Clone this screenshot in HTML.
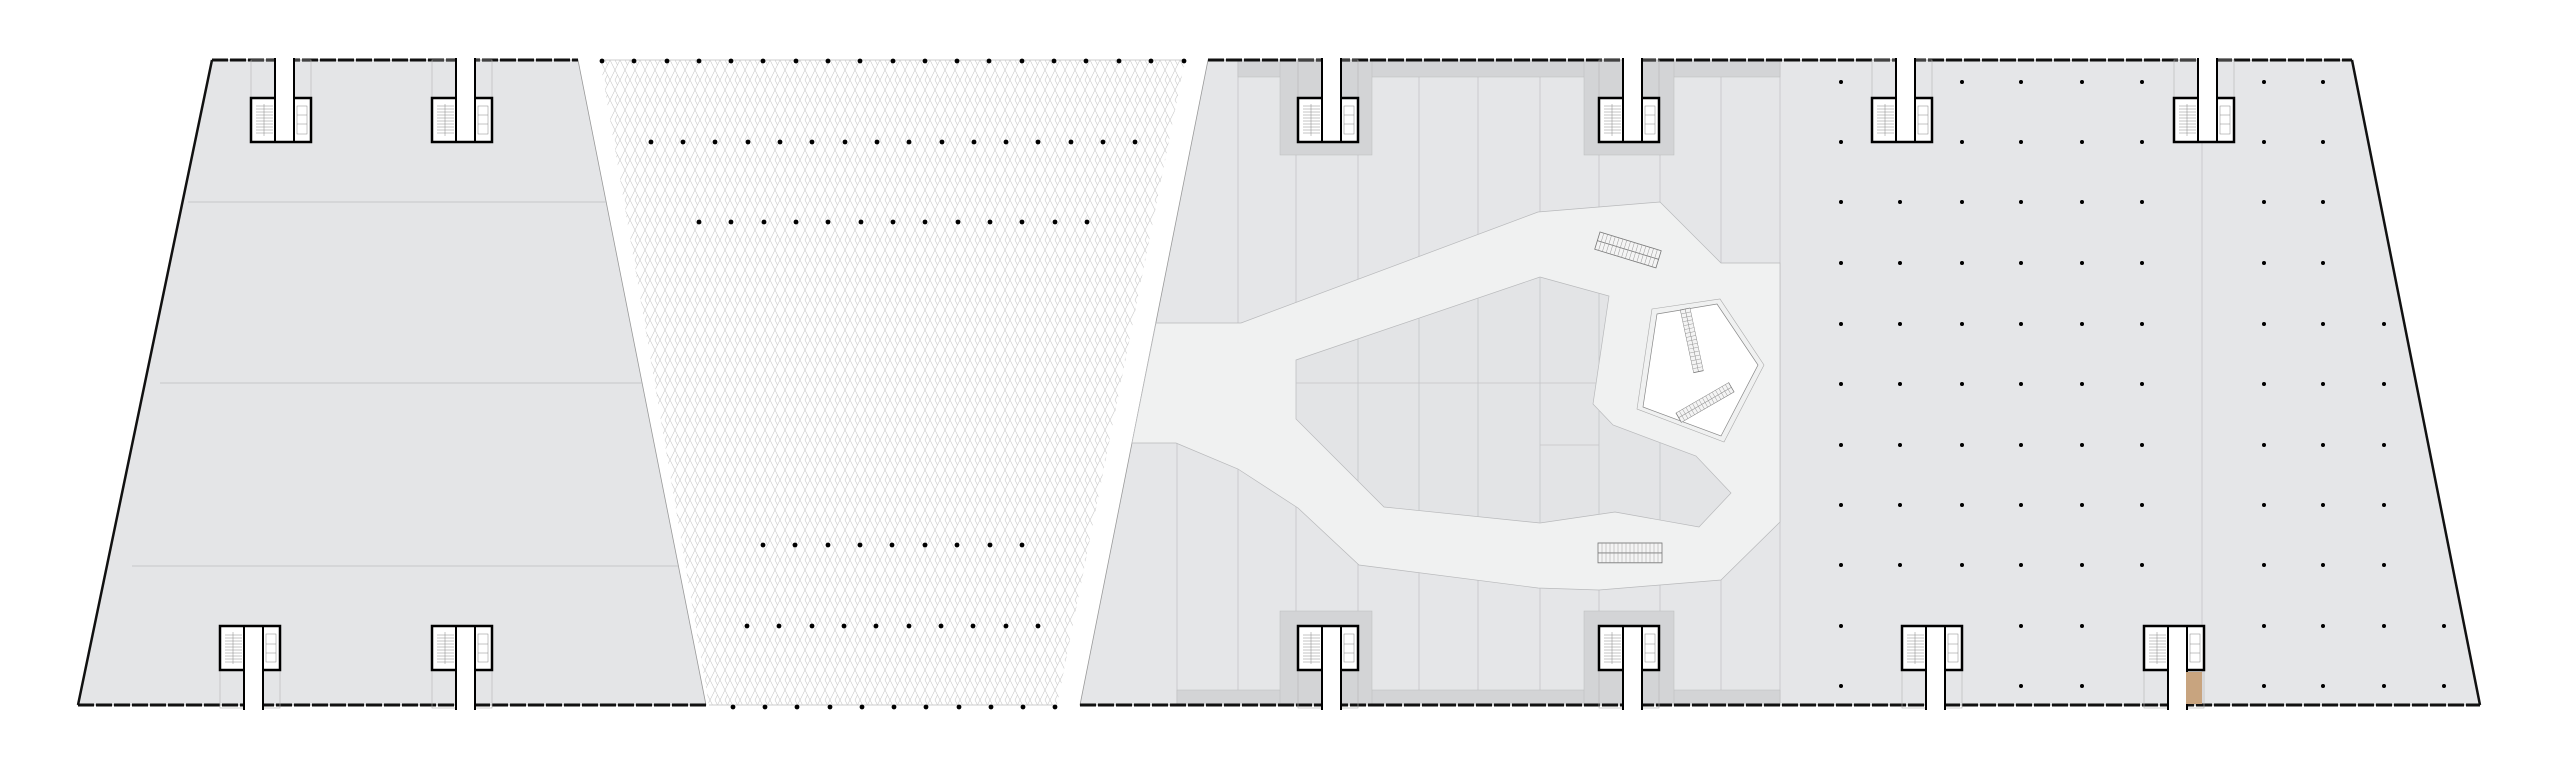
<!DOCTYPE html>
<html><head><meta charset="utf-8"><style>html,body{margin:0;padding:0;background:#fff}svg{display:block}</style></head>
<body>
<svg width="2560" height="768" viewBox="0 0 2560 768" xmlns="http://www.w3.org/2000/svg">
<defs>
<pattern id="lat" width="10" height="20" patternUnits="userSpaceOnUse">
<path d="M0 0 L5 10 L0 20 M10 0 L5 10 L10 20 M5 0 L7.5 5 M5 20 L7.5 15" fill="none" stroke="#c9c9c9" stroke-width="0.6"/>
</pattern>
<clipPath id="isl"><polygon points="1296,360 1540,277 1609,296 1593,404 1613,425 1696,456 1731,493 1699,527 1615,512 1540,523 1384,507 1296,419"/></clipPath>
<g id="core">
<rect x="0" y="0" width="60" height="82" fill="none" stroke="#b5b5b5" stroke-width="0.6"/>
<rect x="0" y="38" width="60" height="44" fill="#fff" stroke="#000" stroke-width="2.5"/>
<g stroke="#888" stroke-width="0.5">
<line x1="5" y1="46" x2="22" y2="46"/><line x1="5" y1="49" x2="22" y2="49"/><line x1="5" y1="52" x2="22" y2="52"/><line x1="5" y1="55" x2="22" y2="55"/><line x1="5" y1="58" x2="22" y2="58"/><line x1="5" y1="61" x2="22" y2="61"/><line x1="5" y1="64" x2="22" y2="64"/><line x1="5" y1="67" x2="22" y2="67"/><line x1="5" y1="70" x2="22" y2="70"/><line x1="5" y1="73" x2="22" y2="73"/><line x1="13" y1="44" x2="13" y2="76"/>
<rect x="46" y="46" width="10" height="28" fill="none"/><line x1="46" y1="55" x2="56" y2="55"/><line x1="46" y1="64" x2="56" y2="64"/>
</g>
<rect x="24" y="-3" width="19" height="83" fill="#fff"/>
<line x1="24" y1="-2" x2="24" y2="81" stroke="#000" stroke-width="2"/>
<line x1="43" y1="-2" x2="43" y2="81" stroke="#000" stroke-width="2"/>
</g>
<g id="esc">
<rect x="0" y="0" width="64" height="18" fill="#f4f4f4" stroke="#777" stroke-width="0.8"/>
<line x1="0" y1="9" x2="64" y2="9" stroke="#777" stroke-width="0.8"/>
<path d="M4 0v18M8 0v18M12 0v18M16 0v18M20 0v18M24 0v18M28 0v18M32 0v18M36 0v18M40 0v18M44 0v18M48 0v18M52 0v18M56 0v18M60 0v18" stroke="#999" stroke-width="0.5"/>
</g>
</defs>

<!-- left block -->
<polygon points="212,60 578,60 706,705 78,705" fill="#e4e5e7" stroke="#999" stroke-width="0.8"/>
<g stroke="#bdbec0" stroke-width="0.8">
<line x1="188" y1="202" x2="606" y2="202"/>
<line x1="160" y1="383" x2="642" y2="383"/>
<line x1="132" y1="566" x2="678" y2="566"/>
</g>

<!-- middle lattice -->
<polygon points="600,60 1185,60 1057,705 709,705" fill="url(#lat)"/>

<!-- right block -->
<polygon points="1208,60 2352,60 2480,705 1080,705" fill="#e5e6e8" stroke="#999" stroke-width="0.8"/>
<!-- mall panels -->
<g stroke="#c4c5c7" stroke-width="0.8">
<line x1="1177" y1="443" x2="1177" y2="705"/>
<line x1="1238" y1="60" x2="1238" y2="705"/>
<line x1="1296" y1="60" x2="1296" y2="705"/>
<line x1="1358" y1="60" x2="1358" y2="705"/>
<line x1="1419" y1="60" x2="1419" y2="705"/>
<line x1="1478" y1="60" x2="1478" y2="705"/>
<line x1="1540" y1="60" x2="1540" y2="705"/>
<line x1="1599" y1="60" x2="1599" y2="705"/>
<line x1="1660" y1="60" x2="1660" y2="705"/>
<line x1="1721" y1="60" x2="1721" y2="705"/>
<line x1="1780" y1="60" x2="1780" y2="705"/>
<line x1="2202" y1="60" x2="2202" y2="705"/>
</g>
<g fill="#d3d4d6" stroke="#bbb" stroke-width="0.5">
<rect x="1238" y="60" width="542" height="17"/>
<rect x="1280" y="60" width="92" height="95"/>
<rect x="1584" y="60" width="90" height="95"/>
<rect x="1177" y="690" width="603" height="15"/>
<rect x="1280" y="611" width="92" height="94"/>
<rect x="1584" y="611" width="90" height="94"/>
</g>
<!-- concourse -->
<polygon points="1156,323 1241,323 1538,212 1660,202 1721,263 1780,263 1780,522 1721,580 1599,590 1538,588 1359,565 1298,508 1238,469 1176,443 1132,443" fill="#f0f1f1" stroke="#b8b9bb" stroke-width="0.7"/>
<polygon points="1296,360 1540,277 1609,296 1593,404 1613,425 1696,456 1731,493 1699,527 1615,512 1540,523 1384,507 1296,419" fill="#e3e4e6" stroke="#b8b9bb" stroke-width="0.7"/>
<g clip-path="url(#isl)" stroke="#c4c5c7" stroke-width="0.8">
<line x1="1358" y1="200" x2="1358" y2="600"/><line x1="1419" y1="200" x2="1419" y2="600"/><line x1="1478" y1="200" x2="1478" y2="600"/><line x1="1540" y1="200" x2="1540" y2="600"/><line x1="1599" y1="200" x2="1599" y2="600"/><line x1="1660" y1="200" x2="1660" y2="600"/>
<line x1="1290" y1="383" x2="1599" y2="383"/><line x1="1540" y1="445" x2="1599" y2="445"/>
</g>
<!-- atrium -->
<polygon points="1652,309 1720,299 1764,365 1724,442 1637,409" fill="none" stroke="#aaa" stroke-width="0.6"/>
<polygon points="1657,314 1717,304 1758,365 1721,436 1643,407" fill="#fff" stroke="#888" stroke-width="0.7"/>
<use href="#esc" transform="translate(1600,232) rotate(17) scale(1,1)"/>
<use href="#esc" transform="translate(1598,543) scale(1,1.1)"/>
<use href="#esc" transform="translate(1690,308) rotate(78) scale(1,0.55)"/>
<use href="#esc" transform="translate(1676,413) rotate(-30) scale(0.95,0.6)"/>

<!-- outlines -->
<g stroke="#111" stroke-width="3" fill="none">
<line x1="212" y1="60" x2="578" y2="60" stroke-dasharray="16 2"/>
<line x1="78" y1="705" x2="706" y2="705" stroke-dasharray="16 2"/>
<line x1="1208" y1="60" x2="2352" y2="60" stroke-dasharray="16 2"/>
<line x1="1080" y1="705" x2="2480" y2="705" stroke-dasharray="16 2"/>
<line x1="212" y1="60" x2="78" y2="705" stroke-width="2.5"/>
<line x1="2352" y1="60" x2="2480" y2="705" stroke-width="2.5"/>
</g>
<line x1="600" y1="60" x2="1185" y2="60" stroke="#ccc" stroke-width="1"/>
<line x1="709" y1="705" x2="1057" y2="705" stroke="#ccc" stroke-width="1"/>

<!-- cores top -->
<use href="#core" transform="translate(251,60)"/>
<use href="#core" transform="translate(432,60)"/>
<use href="#core" transform="translate(1298,60)"/>
<use href="#core" transform="translate(1599,60)"/>
<use href="#core" transform="translate(1872,60)"/>
<use href="#core" transform="translate(2174,60)"/>
<!-- cores bottom -->
<use href="#core" transform="translate(220,708) scale(1,-1)"/>
<use href="#core" transform="translate(432,708) scale(1,-1)"/>
<use href="#core" transform="translate(1298,708) scale(1,-1)"/>
<use href="#core" transform="translate(1599,708) scale(1,-1)"/>
<use href="#core" transform="translate(1902,708) scale(1,-1)"/>
<use href="#core" transform="translate(2144,708) scale(1,-1)"/>
<rect x="2186" y="672" width="16" height="32" fill="#c8a47f"/>

<!-- middle dots -->
<g fill="#000">
<circle cx="602" cy="61" r="2.4"/><circle cx="634" cy="61" r="2.4"/><circle cx="667" cy="61" r="2.4"/><circle cx="699" cy="61" r="2.4"/><circle cx="731" cy="61" r="2.4"/><circle cx="763" cy="61" r="2.4"/><circle cx="796" cy="61" r="2.4"/><circle cx="828" cy="61" r="2.4"/><circle cx="860" cy="61" r="2.4"/><circle cx="893" cy="61" r="2.4"/><circle cx="925" cy="61" r="2.4"/><circle cx="957" cy="61" r="2.4"/><circle cx="989" cy="61" r="2.4"/><circle cx="1022" cy="61" r="2.4"/><circle cx="1054" cy="61" r="2.4"/><circle cx="1086" cy="61" r="2.4"/><circle cx="1119" cy="61" r="2.4"/><circle cx="1151" cy="61" r="2.4"/><circle cx="1184" cy="61" r="2.4"/>
<circle cx="651" cy="142" r="2.4"/><circle cx="683" cy="142" r="2.4"/><circle cx="715" cy="142" r="2.4"/><circle cx="748" cy="142" r="2.4"/><circle cx="780" cy="142" r="2.4"/><circle cx="812" cy="142" r="2.4"/><circle cx="845" cy="142" r="2.4"/><circle cx="877" cy="142" r="2.4"/><circle cx="909" cy="142" r="2.4"/><circle cx="942" cy="142" r="2.4"/><circle cx="974" cy="142" r="2.4"/><circle cx="1006" cy="142" r="2.4"/><circle cx="1038" cy="142" r="2.4"/><circle cx="1071" cy="142" r="2.4"/><circle cx="1103" cy="142" r="2.4"/><circle cx="1135" cy="142" r="2.4"/>
<circle cx="699" cy="222" r="2.4"/><circle cx="731" cy="222" r="2.4"/><circle cx="764" cy="222" r="2.4"/><circle cx="796" cy="222" r="2.4"/><circle cx="828" cy="222" r="2.4"/><circle cx="861" cy="222" r="2.4"/><circle cx="893" cy="222" r="2.4"/><circle cx="925" cy="222" r="2.4"/><circle cx="958" cy="222" r="2.4"/><circle cx="990" cy="222" r="2.4"/><circle cx="1022" cy="222" r="2.4"/><circle cx="1055" cy="222" r="2.4"/><circle cx="1087" cy="222" r="2.4"/>
<circle cx="763" cy="545" r="2.4"/><circle cx="795" cy="545" r="2.4"/><circle cx="828" cy="545" r="2.4"/><circle cx="860" cy="545" r="2.4"/><circle cx="892" cy="545" r="2.4"/><circle cx="925" cy="545" r="2.4"/><circle cx="957" cy="545" r="2.4"/><circle cx="990" cy="545" r="2.4"/><circle cx="1022" cy="545" r="2.4"/>
<circle cx="747" cy="626" r="2.4"/><circle cx="779" cy="626" r="2.4"/><circle cx="812" cy="626" r="2.4"/><circle cx="844" cy="626" r="2.4"/><circle cx="876" cy="626" r="2.4"/><circle cx="909" cy="626" r="2.4"/><circle cx="941" cy="626" r="2.4"/><circle cx="973" cy="626" r="2.4"/><circle cx="1006" cy="626" r="2.4"/><circle cx="1038" cy="626" r="2.4"/>
<circle cx="733" cy="707" r="2.4"/><circle cx="765" cy="707" r="2.4"/><circle cx="797" cy="707" r="2.4"/><circle cx="830" cy="707" r="2.4"/><circle cx="862" cy="707" r="2.4"/><circle cx="894" cy="707" r="2.4"/><circle cx="926" cy="707" r="2.4"/><circle cx="959" cy="707" r="2.4"/><circle cx="991" cy="707" r="2.4"/><circle cx="1023" cy="707" r="2.4"/><circle cx="1055" cy="707" r="2.4"/>
</g>

<!-- right grid dots -->
<g fill="#000">
<circle cx="1841" cy="82" r="2"/><circle cx="1962" cy="82" r="2"/><circle cx="2021" cy="82" r="2"/><circle cx="2082" cy="82" r="2"/><circle cx="2142" cy="82" r="2"/><circle cx="2264" cy="82" r="2"/><circle cx="2323" cy="82" r="2"/>
<circle cx="1841" cy="142" r="2"/><circle cx="1962" cy="142" r="2"/><circle cx="2021" cy="142" r="2"/><circle cx="2082" cy="142" r="2"/><circle cx="2142" cy="142" r="2"/><circle cx="2264" cy="142" r="2"/><circle cx="2323" cy="142" r="2"/>
<circle cx="1841" cy="202" r="2"/><circle cx="1900" cy="202" r="2"/><circle cx="1962" cy="202" r="2"/><circle cx="2021" cy="202" r="2"/><circle cx="2082" cy="202" r="2"/><circle cx="2142" cy="202" r="2"/><circle cx="2264" cy="202" r="2"/><circle cx="2323" cy="202" r="2"/>
<circle cx="1841" cy="263" r="2"/><circle cx="1900" cy="263" r="2"/><circle cx="1962" cy="263" r="2"/><circle cx="2021" cy="263" r="2"/><circle cx="2082" cy="263" r="2"/><circle cx="2142" cy="263" r="2"/><circle cx="2264" cy="263" r="2"/><circle cx="2323" cy="263" r="2"/>
<circle cx="1841" cy="324" r="2"/><circle cx="1900" cy="324" r="2"/><circle cx="1962" cy="324" r="2"/><circle cx="2021" cy="324" r="2"/><circle cx="2082" cy="324" r="2"/><circle cx="2142" cy="324" r="2"/><circle cx="2264" cy="324" r="2"/><circle cx="2323" cy="324" r="2"/><circle cx="2384" cy="324" r="2"/>
<circle cx="1841" cy="384" r="2"/><circle cx="1900" cy="384" r="2"/><circle cx="1962" cy="384" r="2"/><circle cx="2021" cy="384" r="2"/><circle cx="2082" cy="384" r="2"/><circle cx="2142" cy="384" r="2"/><circle cx="2264" cy="384" r="2"/><circle cx="2323" cy="384" r="2"/><circle cx="2384" cy="384" r="2"/>
<circle cx="1841" cy="445" r="2"/><circle cx="1900" cy="445" r="2"/><circle cx="1962" cy="445" r="2"/><circle cx="2021" cy="445" r="2"/><circle cx="2082" cy="445" r="2"/><circle cx="2142" cy="445" r="2"/><circle cx="2264" cy="445" r="2"/><circle cx="2323" cy="445" r="2"/><circle cx="2384" cy="445" r="2"/>
<circle cx="1841" cy="505" r="2"/><circle cx="1900" cy="505" r="2"/><circle cx="1962" cy="505" r="2"/><circle cx="2021" cy="505" r="2"/><circle cx="2082" cy="505" r="2"/><circle cx="2142" cy="505" r="2"/><circle cx="2264" cy="505" r="2"/><circle cx="2323" cy="505" r="2"/><circle cx="2384" cy="505" r="2"/>
<circle cx="1841" cy="565" r="2"/><circle cx="1900" cy="565" r="2"/><circle cx="1962" cy="565" r="2"/><circle cx="2021" cy="565" r="2"/><circle cx="2082" cy="565" r="2"/><circle cx="2142" cy="565" r="2"/><circle cx="2264" cy="565" r="2"/><circle cx="2323" cy="565" r="2"/><circle cx="2384" cy="565" r="2"/>
<circle cx="1841" cy="626" r="2"/><circle cx="2021" cy="626" r="2"/><circle cx="2082" cy="626" r="2"/><circle cx="2264" cy="626" r="2"/><circle cx="2323" cy="626" r="2"/><circle cx="2384" cy="626" r="2"/><circle cx="2444" cy="626" r="2"/>
<circle cx="1841" cy="686" r="2"/><circle cx="2021" cy="686" r="2"/><circle cx="2082" cy="686" r="2"/><circle cx="2264" cy="686" r="2"/><circle cx="2323" cy="686" r="2"/><circle cx="2384" cy="686" r="2"/><circle cx="2444" cy="686" r="2"/>
</g>
</svg>
</body></html>
